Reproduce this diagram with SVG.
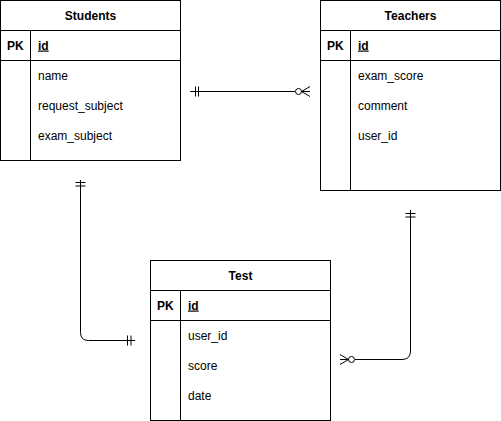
<svg xmlns="http://www.w3.org/2000/svg" width="501" height="421" viewBox="0 0 501 421">
<style>
.box{fill:#fff;stroke:#000;stroke-width:1}
.ln{fill:none;stroke:#000;stroke-width:1}
text{font-family:"Liberation Sans",Arial,Helvetica,sans-serif;font-size:12px;fill:#000}
.t{font-weight:bold;text-anchor:middle}
.b{font-weight:bold}
.u{font-weight:bold;text-decoration:underline}
</style>
<rect width="501" height="421" fill="#fff"/>
<g id="students">
<rect class="box" x="0.5" y="0.5" width="180" height="160"/>
<path class="ln" d="M0.5 30.5H180.5M0.5 60.5H180.5M30.5 30.5V160.5"/>
<text class="t" x="90.5" y="20">Students</text>
<text class="b" x="7" y="49.5">PK</text>
<text class="u" x="38" y="49.5">id</text>
<text x="38" y="79.5">name</text>
<text x="38" y="109.5">request_subject</text>
<text x="38" y="139.5">exam_subject</text>
</g>
<g id="teachers">
<rect class="box" x="320.5" y="0.5" width="180" height="190"/>
<path class="ln" d="M320.5 30.5H500.5M320.5 60.5H500.5M350.5 30.5V190.5"/>
<text class="t" x="410.5" y="20">Teachers</text>
<text class="b" x="327" y="49.5">PK</text>
<text class="u" x="358" y="49.5">id</text>
<text x="358" y="79.5">exam_score</text>
<text x="358" y="109.5">comment</text>
<text x="358" y="139.5">user_id</text>
</g>
<g id="test">
<rect class="box" x="150.5" y="260.5" width="180" height="160"/>
<path class="ln" d="M150.5 290.5H330.5M150.5 320.5H330.5M180.5 290.5V420.5"/>
<text class="t" x="240.5" y="280">Test</text>
<text class="b" x="157" y="309.5">PK</text>
<text class="u" x="188" y="309.5">id</text>
<text x="188" y="339.5">user_id</text>
<text x="188" y="369.5">score</text>
<text x="188" y="399.5">date</text>
</g>
<g id="connectors">
<path class="ln" d="M190 91.5H295"/>
<path class="ln" d="M195.5 86.5V96.5M198.5 86.5V96.5"/>
<circle class="ln" cx="298.5" cy="91.5" r="3"/>
<path class="ln" d="M301.5 91.5H310M301.5 91.5L310 86.5M301.5 91.5L310 96.5"/>
<path class="ln" d="M80.5 180V332.5Q80.5 340.5 88.5 340.5H135"/>
<path class="ln" d="M75.5 182.5H85.5M75.5 186H85.5M127.5 335.5V345.5M131 335.5V345.5"/>
<path class="ln" d="M410.5 210V351Q410.5 359.5 402 359.5H355"/>
<path class="ln" d="M405.5 213.5H415.5M405.5 217H415.5"/>
<circle class="ln" cx="351.5" cy="359.5" r="3"/>
<path class="ln" d="M348.5 359.5H340M348.5 359.5L340 354.5M348.5 359.5L340 364.5"/>
</g>
</svg>
